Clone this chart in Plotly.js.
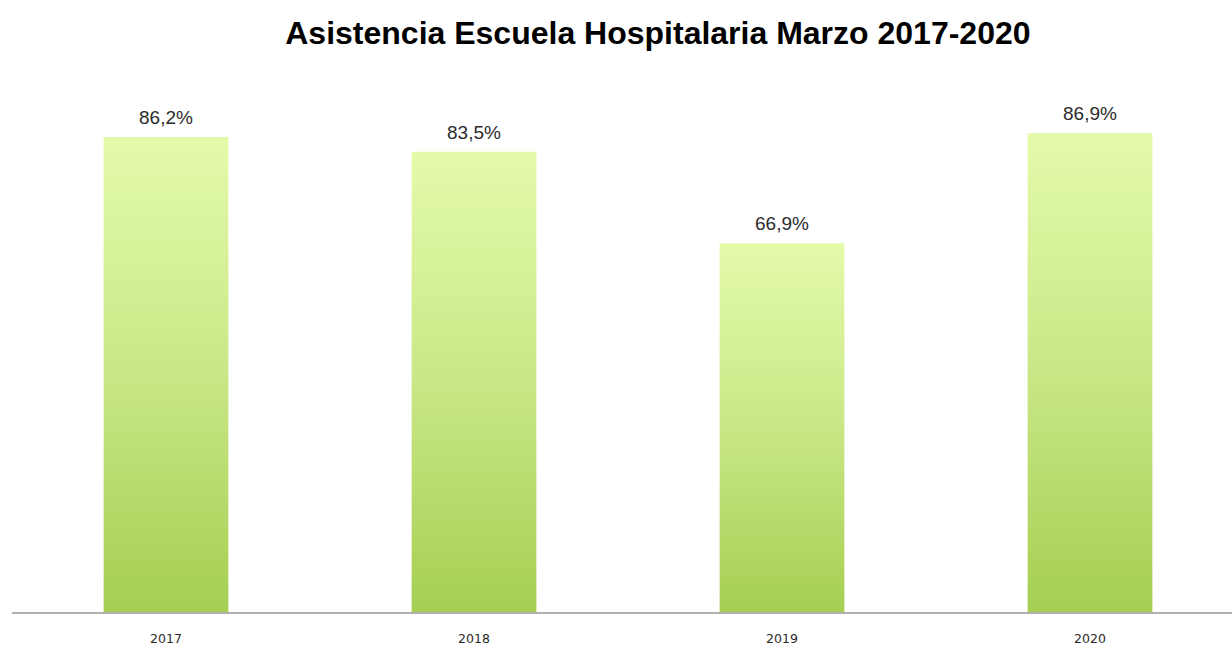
<!DOCTYPE html>
<html>
<head>
<meta charset="utf-8">
<script src="https://cdn.plot.ly/plotly-3.0.1.min.js"></script>
<style>html,body{margin:0;padding:0;background:#fff;}#chart{width:1232px;height:646px;}</style>
</head>
<body>
<div id="chart"></div>
<script>
const years = ["2017", "2018", "2019", "2020"];
const attendance = [86.2, 83.5, 66.9, 86.9];
const labels = ["86,2%", "83,5%", "66,9%", "86,9%"];
const chartTitle = "Asistencia Escuela Hospitalaria Marzo 2017-2020";

const trace = {
  type: "bar",
  x: years,
  y: attendance,
  width: 0.405,
  marker: {color: "#c8e582", line: {width: 0}},
  hoverinfo: "x+y"
};

// on a category axis, annotation x is the category's serial index
const annotations = years.map((yr, i) => ({
  x: i, y: attendance[i], xref: "x", yref: "y",
  text: labels[i], showarrow: false,
  xanchor: "center", yanchor: "bottom", yshift: 7,
  font: {family: "Liberation Sans, Arial, sans-serif", size: 19, color: "#2b2b2b"}
}));

const layout = {
  width: 1232, height: 646,
  paper_bgcolor: "#ffffff", plot_bgcolor: "#ffffff",
  margin: {l: 12, r: 0, t: 100, b: 34},
  title: {
    text: "<b>" + chartTitle + "</b>",
    font: {family: "Liberation Sans, Arial, sans-serif", size: 32, color: "#000000"},
    x: 0.534, xanchor: "center", y: 0.95, yanchor: "middle"
  },
  xaxis: {
    type: "category",
    range: [-0.5, 3.461],
    showline: true, linecolor: "#b0b0b0", linewidth: 2,
    ticks: "", showgrid: false, zeroline: false,
    tickfont: {family: "DejaVu Sans, sans-serif", size: 12.5, color: "#2b2b2b"},
    ticklabelstandoff: 14
  },
  yaxis: {
    range: [0, 92.9], showticklabels: false, ticks: "", showline: false,
    showgrid: false, zeroline: false, fixedrange: true
  },
  annotations: annotations,
  showlegend: false,
  font: {family: "Liberation Sans, Arial, sans-serif"}
};

function applyGradient(gd) {
  const svg = gd.querySelector("svg.main-svg");
  if (!svg) return;
  const ns = "http://www.w3.org/2000/svg";
  let defs = svg.querySelector("defs");
  if (!defs) { defs = document.createElementNS(ns, "defs"); svg.insertBefore(defs, svg.firstChild); }
  if (!svg.querySelector("#barGrad")) {
    const g = document.createElementNS(ns, "linearGradient");
    g.setAttribute("id", "barGrad");
    g.setAttribute("x1", "0"); g.setAttribute("y1", "0");
    g.setAttribute("x2", "0"); g.setAttribute("y2", "1");
    [["0%", "#e4fbab"], ["50%", "#c9e786"], ["100%", "#a5cf52"]].forEach(([o, c]) => {
      const s = document.createElementNS(ns, "stop");
      s.setAttribute("offset", o); s.setAttribute("stop-color", c);
      g.appendChild(s);
    });
    defs.appendChild(g);
  }
  gd.querySelectorAll(".bars .point path").forEach(p => {
    p.style.fill = "url(#barGrad)";
  });
}

Plotly.newPlot("chart", [trace], layout, {displayModeBar: false, staticPlot: true}).then(gd => {
  applyGradient(gd);
  gd.on("plotly_afterplot", () => applyGradient(gd));
});
</script>
</body>
</html>
